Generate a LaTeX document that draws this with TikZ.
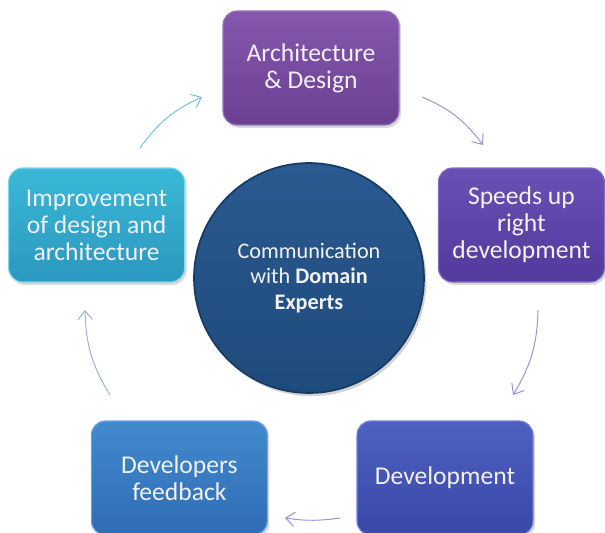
\documentclass[tikz,border=0pt]{standalone}
\usepackage{fontspec}
\setmainfont{Carlito}
\usepackage{tikz}
\usepackage{xcolor}
\usetikzlibrary{shapes.geometric, arrows, arrows.meta, positioning, shadows}

\definecolor{archtop}{HTML}{8558AE}
\definecolor{archbot}{HTML}{6B3F92}
\definecolor{archedge}{HTML}{9A78C0}
\definecolor{speedtop}{HTML}{6A50B4}
\definecolor{speedbot}{HTML}{53399C}
\definecolor{speededge}{HTML}{8270C8}
\definecolor{devtop}{HTML}{4E60C0}
\definecolor{devbot}{HTML}{3A48A8}
\definecolor{devedge}{HTML}{7080D8}
\definecolor{feedtop}{HTML}{428ACF}
\definecolor{feedbot}{HTML}{2F6CB4}
\definecolor{feededge}{HTML}{6AA6E0}
\definecolor{imptop}{HTML}{3BB8D8}
\definecolor{impbot}{HTML}{2A98BE}
\definecolor{impedge}{HTML}{7FD6EE}
\definecolor{commtop}{HTML}{2A5A90}
\definecolor{commbot}{HTML}{1F4A7C}
\definecolor{commedge}{HTML}{163A60}
\definecolor{boxtext}{HTML}{F2F2F4}

\begin{document}
\begin{tikzpicture}[node distance=5.25cm]
    \tikzstyle{cycbox} = [rectangle, rounded corners=0.35cm, minimum width=4.4cm, minimum height=2.85cm, text centered, align=center, line width=0.8pt, text=boxtext, font=\fontsize{18.2}{19.2}\selectfont, drop shadow={opacity=0.3, shadow xshift=0.05cm, shadow yshift=-0.07cm}]
    \tikzstyle{archbox} = [cycbox, draw=archedge, top color=archtop, bottom color=archbot]
    \tikzstyle{speedbox} = [cycbox, draw=speededge, top color=speedtop, bottom color=speedbot, minimum width=4.15cm]
    \tikzstyle{devbox} = [cycbox, draw=devedge, top color=devtop, bottom color=devbot]
    \tikzstyle{feedbox} = [cycbox, draw=feededge, top color=feedtop, bottom color=feedbot]
    \tikzstyle{impbox} = [cycbox, draw=impedge, top color=imptop, bottom color=impbot]
    \tikzstyle{hub} = [circle, minimum size=5.75cm, draw=commedge, line width=1.2pt, top color=commtop, bottom color=commbot, text=boxtext, align=center, font=\fontsize{15.8}{17.9}\selectfont, drop shadow={opacity=0.35, shadow xshift=0.06cm, shadow yshift=-0.08cm}]
    \tikzstyle{cycarrow} = [-{Straight Barb[length=2.2mm, width=3.6mm]}, line width=0.7pt, bend left=15]

    \useasboundingbox (-7.725,6.95) rectangle (7.4,-6.35);

    \node (comm) [hub] {Communication\\with \textbf{Domain}\\\textbf{Experts}};
    \node (arch) [archbox, above of=comm, xshift=0.05cm] {Architecture\\\& Design};
    \node (speeds) [speedbox, right of=comm, xshift=0.06cm, yshift=1.325cm] {Speeds up\\right\\development};
    \node (devel) [devbox, below of=comm, xshift=3.4cm, yshift=0.25cm] {Development};
    \node (feedback) [feedbox, below of=comm, xshift=-3.24cm, yshift=0.25cm] {Developers\\feedback};
    \node (improve) [impbox, left of=comm, xshift=-0.06cm, yshift=1.325cm] {Improvement\\of design and\\architecture};

    % arrow ends
    \coordinate (a1s) at (-4.225,3.25);
    \coordinate (a1e) at (-2.675,4.525);
    \coordinate (a2s) at (2.825,4.525);
    \coordinate (a2e) at (4.35,3.325);
    \coordinate (a3s) at (5.725,-0.8);
    \coordinate (a3e) at (5.1,-2.925);
    \coordinate (a4s) at (0.775,-6.0);
    \coordinate (a4e) at (-0.6,-6.0);
    \coordinate (a5s) at (-4.975,-2.925);
    \coordinate (a5e) at (-5.6,-0.8);

    \draw [cycarrow, color={rgb,255:red,120;green,192;blue,216}] (a1s) to (a1e);
    \draw [cycarrow, color={rgb,255:red,165;green,144;blue,204}] (a2s) to (a2e);
    \draw [cycarrow, color={rgb,255:red,156;green,146;blue,210}] (a3s) to (a3e);
    \draw [cycarrow, color={rgb,255:red,140;green,150;blue,216}, bend left=8] (a4s) to (a4e);
    \draw [cycarrow, color={rgb,255:red,147;green,180;blue,220}] (a5s) to (a5e);
\end{tikzpicture}
\end{document}
